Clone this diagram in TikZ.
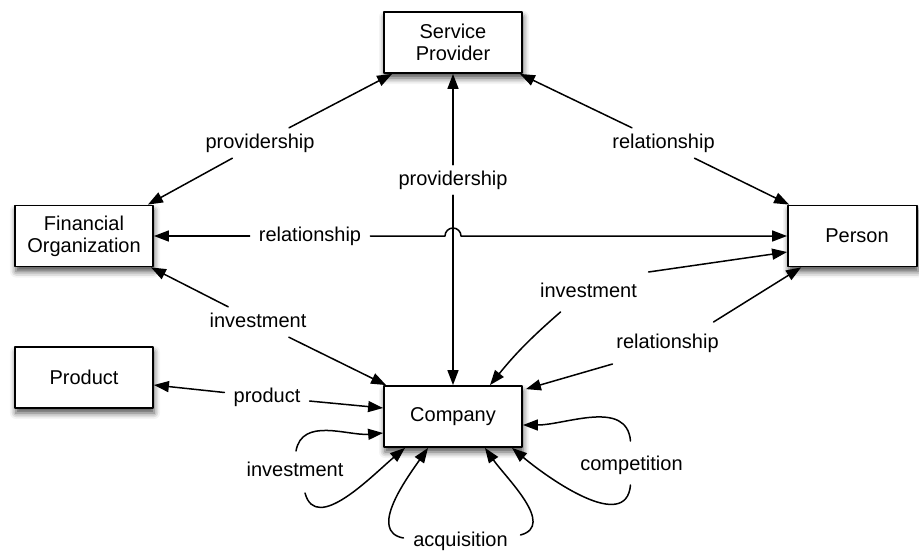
\documentclass[tikz,border=0pt]{standalone}
\usepackage{fontspec}
\setmainfont{Liberation Sans}
\usetikzlibrary{arrows.meta,shadows.blur,calc}

\tikzset{
  entity/.style={draw, line width=1.8pt, fill=white, minimum width=138pt,
    minimum height=61pt, inner sep=0pt, align=center,
    font=\fontsize{20}{22}\selectfont,
    blur shadow={shadow xshift=1pt, shadow yshift=-5pt,
      shadow blur radius=6pt, shadow opacity=70}},
  rel/.style={font=\fontsize{20}{22}\selectfont, inner xsep=9pt,
    inner ysep=6pt, text height=14pt, text depth=4pt},
  arr/.style={line width=1.5pt, -{Triangle[length=15pt,width=11pt]}},
}

\begin{document}
\begin{tikzpicture}[x=1pt, y=-1pt, line join=round, line cap=round]
	\useasboundingbox (0,0) rectangle (919,550);

	% Các khối
	\node[entity] (sp)     at (453,42.5)   {Service\\Provider};
	\node[entity] (fin)    at (84,236)     {Financial\\Organization};
	\node[entity, minimum width=129pt] (person) at (852.5,236) {\hspace*{9pt}Person};
	\node[entity] (prod)   at (84,377.5)   {Product};
	\node[entity] (comp)   at (453,416.5)  {Company};

	% Các nhãn quan hệ
	\foreach \n/\p/\t in {
		lprovl/{260,143}/providership, lrelr/{663.5,143}/relationship,
		lprovm/{453,180}/providership, lrelm/{310,236}/relationship,
		linvl/{258,322}/investment,    linvr/{588.5,292}/investment,
		lrelb/{667.5,343}/relationship, lprod/{267,397}/product,
		linvb/{295,471}/investment,    lacq/{460.5,541}/acquisition,
		lcomp/{631.5,465}/competition
	} \node[rel] (\n) at (\p) {\t};

	\coordinate (hop) at (comp.north |- lrelm);

	% Các mũi tên
	\draw[arr] (lprovl) -- ([xshift=9pt]sp.south west);
	\draw[arr] (lprovl) -- ([xshift=-6pt]fin.north east);
	\draw[arr] (lrelr) -- ([xshift=-3pt]sp.south east);
	\draw[arr] (lrelr) -- ([xshift=2pt]person.north west);
	\draw[arr] (lprovm) -- (sp.south);
	\draw[arr] (lprovm) -- (comp.north);
	\draw[arr] (lrelm) -- (fin.east);
	\draw[arr] (lrelm.east) -- ([xshift=-8pt]hop)
		arc[start angle=180, end angle=0, radius=8pt] -- (person.west);
	\draw[arr] (linvl) -- ([xshift=-3pt]fin.south east);
	\draw[arr] (linvl) -- ([xshift=3pt]comp.north west);
	\draw[arr] ($(linvr)+(60,-20)$) -- ([yshift=-16pt]person.west);
	\draw[arr] ($(linvr)+(-28,20)$) to[bend right=5] ([xshift=37pt]comp.north);
	\draw[arr] ($(lrelb)+(46,-21)$) -- ([xshift=14pt]person.south west);
	\draw[arr] ($(lrelb)+(-55,21)$) -- ([xshift=3pt, yshift=-4pt]comp.north east);
	\draw[arr] (lprod) -- ([yshift=-7.5pt]prod.east);
	\draw[arr] (lprod) -- ([yshift=8.5pt]comp.west);
	\draw[arr] ($(linvb)+(1,-20)$) to[out=80, in=185] ([yshift=-16.5pt]comp.west);
	\draw[arr] ($(linvb)+(10,22)$) to[out=-75, in=220] ([xshift=-48pt]comp.south);
	\draw[arr] ($(lacq)+(-57,-3)$) to[out=170, in=235] ([xshift=-25pt]comp.south);
	\draw[arr] ($(lacq)+(60,-6)$) to[out=15, in=-55] ([xshift=32pt]comp.south);
	\draw[arr] ($(lcomp)+(-1,20)$) to[out=-95, in=-40] ([xshift=59pt]comp.south);
	\draw[arr] ($(lcomp)+(-1,-24)$) to[out=95, in=0] ([yshift=-8.5pt]comp.east);
\end{tikzpicture}
\end{document}
